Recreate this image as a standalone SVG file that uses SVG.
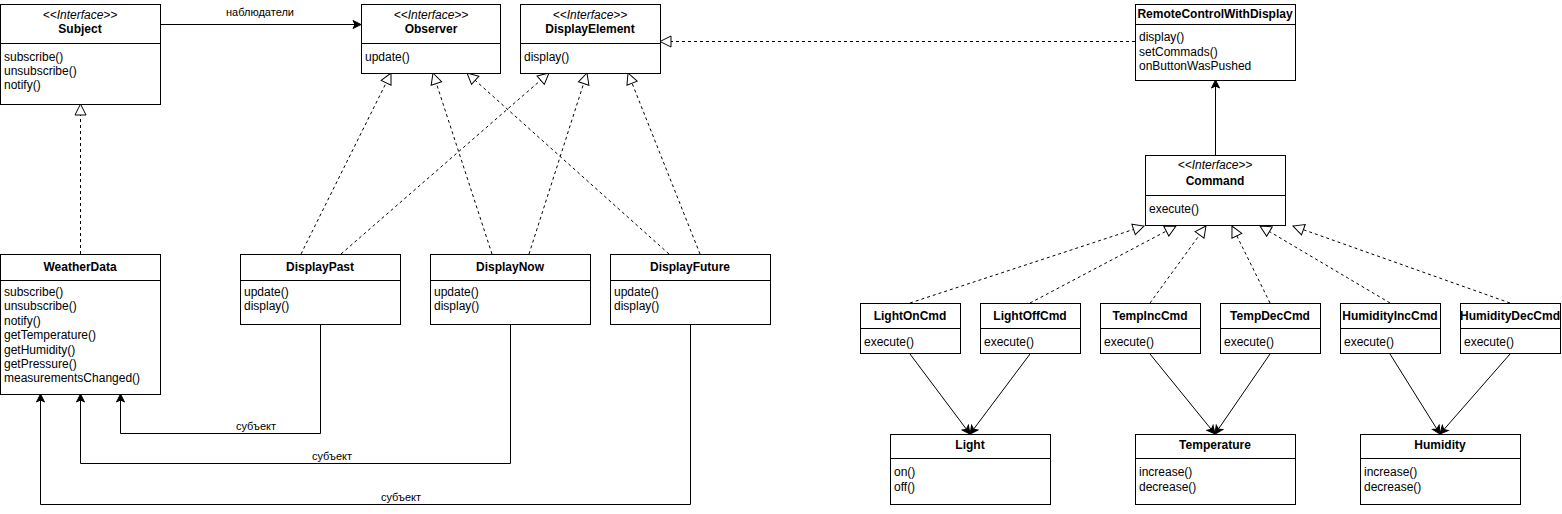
<svg xmlns="http://www.w3.org/2000/svg" width="1562" height="514" viewBox="0 0 1562 514">
<style>
.box{fill:#fff;stroke:#000;stroke-width:1}
.t{font-family:"Liberation Sans",Arial,Helvetica,sans-serif;font-size:12px;fill:#000}
.c{text-anchor:middle}
.b{font-weight:bold}
.i{font-style:italic}
.l{font-family:"Liberation Sans",Arial,Helvetica,sans-serif;font-size:11px;fill:#000;text-anchor:middle}
.e{fill:none;stroke:#000;stroke-width:1}
.d{stroke-dasharray:3 3}
</style>
<defs>
<marker id="hollow" markerUnits="userSpaceOnUse" markerWidth="14" markerHeight="14" viewBox="0 0 14 14" refX="12" refY="7" orient="auto">
<path d="M1,1.5 L12,7 L1,12.5 Z" fill="#fff" stroke="#000" stroke-width="1"/>
</marker>
<marker id="filled" markerUnits="userSpaceOnUse" markerWidth="10" markerHeight="10" viewBox="0 0 10 10" refX="9" refY="5" orient="auto">
<path d="M1,1 L9,5 L1,9 L3,5 Z" fill="#000" stroke="#000" stroke-width="1"/>
</marker>
</defs>

<g id="edges">
<path class="e" d="M160,24.5 L361,24.5" marker-end="url(#filled)"/>
<text class="l" x="260" y="16">наблюдатели</text>
<path class="e d" d="M80.5,254 L80.5,104" marker-end="url(#hollow)"/>
<path class="e d" d="M301,254 L391,73" marker-end="url(#hollow)"/>
<path class="e d" d="M341,254 L549,73" marker-end="url(#hollow)"/>
<path class="e d" d="M492,254 L433,73" marker-end="url(#hollow)"/>
<path class="e d" d="M529,254 L587,73" marker-end="url(#hollow)"/>
<path class="e d" d="M669,254 L467,73" marker-end="url(#hollow)"/>
<path class="e d" d="M700,254 L628,73" marker-end="url(#hollow)"/>
<path class="e d" d="M1135,41.5 L660,41.5" marker-end="url(#hollow)"/>
<path class="e" d="M1215.5,155 L1215.5,80" marker-end="url(#filled)"/>
<path class="e d" d="M910,303 L1144,226" marker-end="url(#hollow)"/>
<path class="e d" d="M1030,303 L1176,226" marker-end="url(#hollow)"/>
<path class="e d" d="M1150,303 L1206,226" marker-end="url(#hollow)"/>
<path class="e d" d="M1270,303 L1232,226" marker-end="url(#hollow)"/>
<path class="e d" d="M1390,303 L1260,226" marker-end="url(#hollow)"/>
<path class="e d" d="M1510,303 L1293,226" marker-end="url(#hollow)"/>
<path class="e" d="M910,354 L970,434" marker-end="url(#filled)"/>
<path class="e" d="M1030,354 L970,434" marker-end="url(#filled)"/>
<path class="e" d="M1150,354 L1215,434" marker-end="url(#filled)"/>
<path class="e" d="M1270,354 L1215,434" marker-end="url(#filled)"/>
<path class="e" d="M1390,354 L1440,434" marker-end="url(#filled)"/>
<path class="e" d="M1510,354 L1440,434" marker-end="url(#filled)"/>
<path class="e" d="M320.5,324 V433.5 H120.5 V394" marker-end="url(#filled)"/>
<text class="l" x="256" y="430">субъект</text>
<path class="e" d="M510.5,324 V463.5 H80.5 V394" marker-end="url(#filled)"/>
<text class="l" x="332" y="460">субъект</text>
<path class="e" d="M690.5,324 V504.5 H40.5 V394" marker-end="url(#filled)"/>
<text class="l" x="401" y="501">субъект</text>
</g>

<g id="Subject">
<rect class="box" x="0.5" y="4.5" width="160" height="100"/>
<line class="e" x1="0.5" y1="43.5" x2="160.5" y2="43.5"/>
<text class="t c i" x="80" y="19">&lt;&lt;Interface&gt;&gt;</text>
<text class="t c b" x="80" y="33">Subject</text>
<text class="t" x="4" y="61">subscribe()</text>
<text class="t" x="4" y="75">unsubscribe()</text>
<text class="t" x="4" y="89">notify()</text>
</g>

<g id="Observer">
<rect class="box" x="361.5" y="4.5" width="139" height="69"/>
<line class="e" x1="361.5" y1="43.5" x2="500.5" y2="43.5"/>
<text class="t c i" x="431" y="19">&lt;&lt;Interface&gt;&gt;</text>
<text class="t c b" x="431" y="33">Observer</text>
<text class="t" x="365" y="61">update()</text>
</g>

<g id="DisplayElement">
<rect class="box" x="520.5" y="4.5" width="140" height="69"/>
<line class="e" x1="520.5" y1="43.5" x2="660.5" y2="43.5"/>
<text class="t c i" x="590" y="19">&lt;&lt;Interface&gt;&gt;</text>
<text class="t c b" x="590" y="33">DisplayElement</text>
<text class="t" x="524" y="61">display()</text>
</g>

<g id="RemoteControlWithDisplay">
<rect class="box" x="1135.5" y="4.5" width="160" height="76"/>
<line class="e" x1="1135.5" y1="24.5" x2="1295.5" y2="24.5"/>
<text class="t c b" x="1215" y="18">RemoteControlWithDisplay</text>
<text class="t" x="1139" y="41">display()</text>
<text class="t" x="1139" y="56">setCommads()</text>
<text class="t" x="1139" y="70">onButtonWasPushed</text>
</g>

<g id="Command">
<rect class="box" x="1145.5" y="155.5" width="140" height="70"/>
<line class="e" x1="1145.5" y1="195.5" x2="1285.5" y2="195.5"/>
<text class="t c i" x="1215" y="169">&lt;&lt;Interface&gt;&gt;</text>
<text class="t c b" x="1215" y="185">Command</text>
<text class="t" x="1149" y="213">execute()</text>
</g>

<g id="WeatherData">
<rect class="box" x="0.5" y="254.5" width="160" height="140"/>
<line class="e" x1="0.5" y1="280.5" x2="160.5" y2="280.5"/>
<text class="t c b" x="80" y="271">WeatherData</text>
<text class="t" x="4" y="296">subscribe()</text>
<text class="t" x="4" y="310">unsubscribe()</text>
<text class="t" x="4" y="325">notify()</text>
<text class="t" x="4" y="339">getTemperature()</text>
<text class="t" x="4" y="354">getHumidity()</text>
<text class="t" x="4" y="368">getPressure()</text>
<text class="t" x="4" y="382">measurementsChanged()</text>
</g>

<g id="DisplayPast">
<rect class="box" x="240.5" y="254.5" width="160" height="70"/>
<line class="e" x1="240.5" y1="280.5" x2="400.5" y2="280.5"/>
<text class="t c b" x="320" y="271">DisplayPast</text>
<text class="t" x="244" y="296">update()</text>
<text class="t" x="244" y="310">display()</text>
</g>

<g id="DisplayNow">
<rect class="box" x="430.5" y="254.5" width="160" height="70"/>
<line class="e" x1="430.5" y1="280.5" x2="590.5" y2="280.5"/>
<text class="t c b" x="510" y="271">DisplayNow</text>
<text class="t" x="434" y="296">update()</text>
<text class="t" x="434" y="310">display()</text>
</g>

<g id="DisplayFuture">
<rect class="box" x="610.5" y="254.5" width="160" height="70"/>
<line class="e" x1="610.5" y1="280.5" x2="770.5" y2="280.5"/>
<text class="t c b" x="690" y="271">DisplayFuture</text>
<text class="t" x="614" y="296">update()</text>
<text class="t" x="614" y="310">display()</text>
</g>

<g id="LightOnCmd">
<rect class="box" x="860.5" y="303.5" width="100" height="50"/>
<line class="e" x1="860.5" y1="328.5" x2="960.5" y2="328.5"/>
<text class="t c b" x="910" y="320">LightOnCmd</text>
<text class="t" x="864" y="346">execute()</text>
</g>

<g id="LightOffCmd">
<rect class="box" x="980.5" y="303.5" width="100" height="50"/>
<line class="e" x1="980.5" y1="328.5" x2="1080.5" y2="328.5"/>
<text class="t c b" x="1030" y="320">LightOffCmd</text>
<text class="t" x="984" y="346">execute()</text>
</g>

<g id="TempIncCmd">
<rect class="box" x="1100.5" y="303.5" width="100" height="50"/>
<line class="e" x1="1100.5" y1="328.5" x2="1200.5" y2="328.5"/>
<text class="t c b" x="1150" y="320">TempIncCmd</text>
<text class="t" x="1104" y="346">execute()</text>
</g>

<g id="TempDecCmd">
<rect class="box" x="1220.5" y="303.5" width="100" height="50"/>
<line class="e" x1="1220.5" y1="328.5" x2="1320.5" y2="328.5"/>
<text class="t c b" x="1270" y="320">TempDecCmd</text>
<text class="t" x="1224" y="346">execute()</text>
</g>

<g id="HumidityIncCmd">
<rect class="box" x="1340.5" y="303.5" width="100" height="50"/>
<line class="e" x1="1340.5" y1="328.5" x2="1440.5" y2="328.5"/>
<text class="t c b" x="1390" y="320">HumidityIncCmd</text>
<text class="t" x="1344" y="346">execute()</text>
</g>

<g id="HumidityDecCmd">
<rect class="box" x="1460.5" y="303.5" width="100" height="50"/>
<line class="e" x1="1460.5" y1="328.5" x2="1560.5" y2="328.5"/>
<text class="t c b" x="1510" y="320">HumidityDecCmd</text>
<text class="t" x="1464" y="346">execute()</text>
</g>

<g id="Light">
<rect class="box" x="890.5" y="434.5" width="160" height="70"/>
<line class="e" x1="890.5" y1="458.5" x2="1050.5" y2="458.5"/>
<text class="t c b" x="970" y="449">Light</text>
<text class="t" x="894" y="476">on()</text>
<text class="t" x="894" y="491">off()</text>
</g>

<g id="Temperature">
<rect class="box" x="1135.5" y="434.5" width="160" height="70"/>
<line class="e" x1="1135.5" y1="458.5" x2="1295.5" y2="458.5"/>
<text class="t c b" x="1215" y="449">Temperature</text>
<text class="t" x="1139" y="476">increase()</text>
<text class="t" x="1139" y="491">decrease()</text>
</g>

<g id="Humidity">
<rect class="box" x="1360.5" y="434.5" width="160" height="70"/>
<line class="e" x1="1360.5" y1="458.5" x2="1520.5" y2="458.5"/>
<text class="t c b" x="1440" y="449">Humidity</text>
<text class="t" x="1364" y="476">increase()</text>
<text class="t" x="1364" y="491">decrease()</text>
</g>
</svg>
